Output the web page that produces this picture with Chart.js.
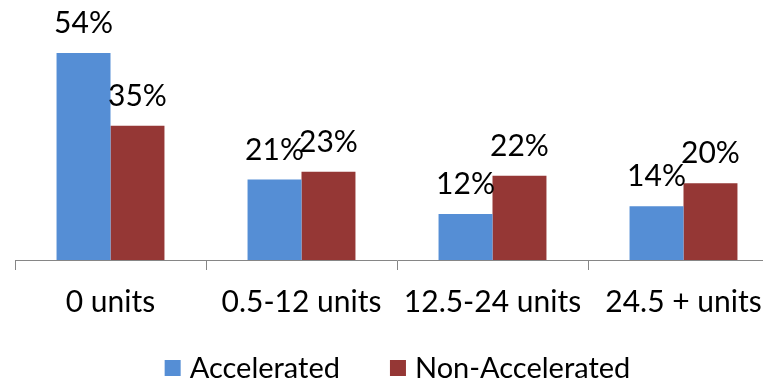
<!DOCTYPE html>
<html><head><meta charset="utf-8">
<script src="https://cdn.jsdelivr.net/npm/chart.js@4"></script>
<style>html,body{margin:0;padding:0;overflow:hidden;background:#fff}#wrap{width:795px;height:382px;position:relative}</style>
</head><body><div id="wrap"><canvas id="c"></canvas></div>
<script>
const categories = ["0 units", "0.5-12 units", "12.5-24 units", "24.5 + units"];
const accelerated = [54, 21, 12, 14];
const nonAccelerated = [35, 23, 22, 20];
const seriesNames = ["Accelerated", "Non-Accelerated"];
const FONT = "Lato, Calibri, Carlito, sans-serif";

const labelPlugin = {
  id: 'barLabels',
  afterDatasetsDraw(chart) {
    const ctx = chart.ctx;
    ctx.save();
    ctx.font = "30px " + FONT;
    ctx.fillStyle = "#000";
    ctx.textAlign = "center";
    ctx.textBaseline = "alphabetic";
    chart.data.datasets.forEach((ds, i) => {
      chart.getDatasetMeta(i).data.forEach((bar, j) => {
        ctx.fillText(ds.data[j] + "%", bar.x, bar.y - 20);
      });
    });
    ctx.restore();
  }
};

const legendPlugin = {
  id: 'bottomLegend',
  afterDraw(chart) {
    const ctx = chart.ctx;
    ctx.save();
    ctx.font = "29px " + FONT;
    ctx.textBaseline = "alphabetic";
    ctx.textAlign = "left";
    const box = 16, gap = 9, itemGap = 50;
    const items = chart.data.datasets.map(ds => ({ text: ds.label, color: ds.backgroundColor, w: ctx.measureText(ds.label).width }));
    let total = 0;
    items.forEach((it, k) => { total += box + gap + it.w + (k ? itemGap : 0); });
    let x = chart.width / 2 - total / 2;
    items.forEach(it => {
      ctx.fillStyle = it.color;
      ctx.fillRect(x, 360, box, box);
      ctx.fillStyle = "#000";
      ctx.fillText(it.text, x + box + gap, 378);
      x += box + gap + it.w + itemGap;
    });
    ctx.restore();
  }
};

new Chart(document.getElementById('c'), {
  type: 'bar',
  data: {
    labels: categories,
    datasets: [
      { label: seriesNames[0], data: accelerated, backgroundColor: "#558ED5" },
      { label: seriesNames[1], data: nonAccelerated, backgroundColor: "#953735" }
    ]
  },
  options: {
    responsive: true, maintainAspectRatio: false, animation: false,
    layout: { padding: { left: 15, right: 16, top: 30, bottom: 62 } },
    datasets: { bar: { categoryPercentage: 0.565, barPercentage: 1 } },
    plugins: {
      tooltip: { enabled: false },
      legend: { display: false }
    },
    scales: {
      y: { display: false, min: 0, max: 60 },
      x: {
        afterFit(scale) { scale.height = 60; },
        grid: { drawOnChartArea: false, tickLength: 10, color: "#868686", offset: true },
        border: { color: "#868686" },
        ticks: { font: { family: FONT, size: 30 }, color: "#000", padding: 14, maxRotation: 0 }
      }
    }
  },
  plugins: [labelPlugin, legendPlugin]
});
</script></body></html>
